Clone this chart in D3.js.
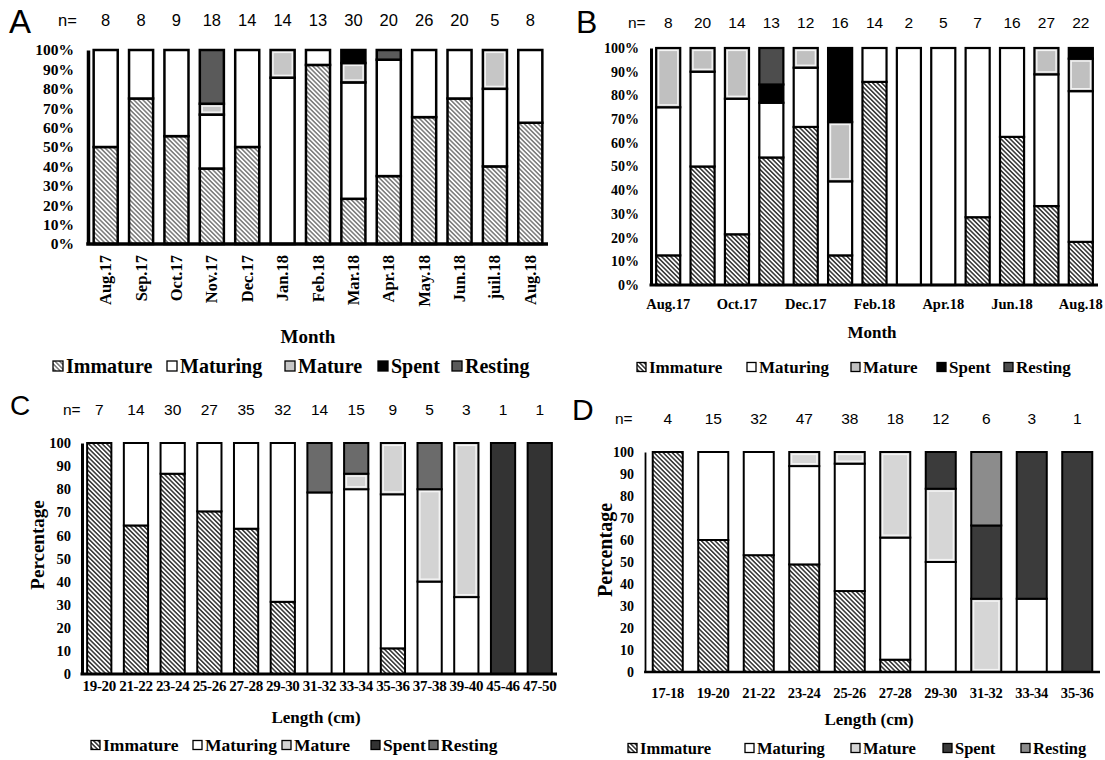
<!DOCTYPE html>
<html>
<head>
<meta charset="utf-8">
<script src="https://cdn.jsdelivr.net/npm/d3@7"></script>
<style>
  body { margin: 0; background: #fff; }
  svg { display: block; }
</style>
</head>
<body>
<svg id="chart" width="1105" height="760"></svg>
<script>
const stages = ['Immature', 'Maturing', 'Mature', 'Spent', 'Resting'];

// A - by month
const monthsA = ['Aug.17', 'Sep.17', 'Oct.17', 'Nov.17', 'Dec.17', 'Jan.18', 'Feb.18', 'Mar.18', 'Apr.18', 'May.18', 'Jun.18', 'juil.18', 'Aug.18'];
const nA = [8, 8, 9, 18, 14, 14, 13, 30, 20, 26, 20, 5, 8];
const immatureA = [50, 75, 55.6, 38.9, 50, 0, 92.3, 23.3, 35, 65.4, 75, 40, 62.5];
const maturingA = [50, 25, 44.4, 27.8, 50, 85.7, 7.7, 60, 60, 34.6, 25, 40, 37.5];
const matureA = [0, 0, 0, 5.6, 0, 14.3, 0, 10, 0, 0, 0, 20, 0];
const spentA = [0, 0, 0, 0, 0, 0, 0, 6.7, 0, 0, 0, 0, 0];
const restingA = [0, 0, 0, 27.7, 0, 0, 0, 0, 5, 0, 0, 0, 0];

// B - by month
const monthsB = ['Aug.17', 'Sep.17', 'Oct.17', 'Nov.17', 'Dec.17', 'Jan.18', 'Feb.18', 'Mar.18', 'Apr.18', 'May.18', 'Jun.18', 'Jul.18', 'Aug.18'];
const nB = [8, 20, 14, 13, 12, 16, 14, 2, 5, 7, 16, 27, 22];
const immatureB = [12.5, 50, 21.4, 53.8, 66.7, 12.5, 85.7, 0, 0, 28.6, 62.5, 33.3, 18.2];
const maturingB = [62.5, 40, 57.2, 23.1, 25, 31.25, 14.3, 100, 100, 71.4, 37.5, 55.6, 63.6];
const matureB = [25, 10, 21.4, 0, 8.3, 25, 0, 0, 0, 0, 0, 11.1, 13.7];
const spentB = [0, 0, 0, 7.7, 0, 31.25, 0, 0, 0, 0, 0, 0, 4.5];
const restingB = [0, 0, 0, 15.4, 0, 0, 0, 0, 0, 0, 0, 0, 0];

// C - by length
const lengthsC = ['19-20', '21-22', '23-24', '25-26', '27-28', '29-30', '31-32', '33-34', '35-36', '37-38', '39-40', '45-46', '47-50'];
const nC = [7, 14, 30, 27, 35, 32, 14, 15, 9, 5, 3, 1, 1];
const immatureC = [100, 64.3, 86.7, 70.4, 62.9, 31.25, 0, 0, 11.1, 0, 0, 0, 0];
const maturingC = [0, 35.7, 13.3, 29.6, 37.1, 68.75, 78.6, 80, 66.7, 40, 33.3, 0, 0];
const matureC = [0, 0, 0, 0, 0, 0, 0, 6.7, 22.2, 40, 66.7, 0, 0];
const spentC = [0, 0, 0, 0, 0, 0, 0, 0, 0, 0, 0, 100, 100];
const restingC = [0, 0, 0, 0, 0, 0, 21.4, 13.3, 0, 20, 0, 0, 0];

// D - by length
const lengthsD = ['17-18', '19-20', '21-22', '23-24', '25-26', '27-28', '29-30', '31-32', '33-34', '35-36'];
const nD = [4, 15, 32, 47, 38, 18, 12, 6, 3, 1];
const immatureD = [100, 60, 53.1, 48.9, 36.8, 5.6, 0, 0, 0, 0];
const maturingD = [0, 40, 46.9, 44.7, 57.9, 55.5, 50, 0, 33.3, 0];
const matureD = [0, 0, 0, 6.4, 5.3, 38.9, 33.3, 33.3, 0, 0];
const spentD = [0, 0, 0, 0, 0, 0, 16.7, 33.3, 66.7, 100];
const restingD = [0, 0, 0, 0, 0, 0, 0, 33.4, 0, 0];

const serif = '"Liberation Serif", "Times New Roman", serif';
const sans = '"Liberation Sans", Arial, sans-serif';

const svg = d3.select('#chart');
const defs = svg.append('defs');

// diagonal hatching for the Immature stage
function addHatch(id, color, width) {
  const p = defs.append('pattern')
    .attr('id', id)
    .attr('patternUnits', 'userSpaceOnUse')
    .attr('width', 3.2)
    .attr('height', 3.2)
    .attr('patternTransform', 'rotate(-45)');
  p.append('rect').attr('width', 3.2).attr('height', 3.2).attr('fill', '#fff');
  p.append('line')
    .attr('x1', 1.6).attr('y1', 0).attr('x2', 1.6).attr('y2', 3.2)
    .attr('stroke', color).attr('stroke-width', width);
}
addHatch('hatchA', '#555', 1.2);
addHatch('hatchDark', '#111', 1.3);

const panels = [
  {
    letter: 'A', letterPos: [9, 33], letterSize: 33,
    cats: monthsA, n: nA, series: [immatureA, maturingA, matureA, spentA, restingA],
    fills: ['url(#hatchA)', '#fff', '#c6c6c6', '#000', '#5a5a5a'],
    xr: [88, 548], yr: [244, 50], pi: 0.32, po: 0.16,
    percent: true, tickFont: 15.5, tickPad: 14, yAxisW: 3.5, xAxisW: 3.5, barW: 2.5,
    nPos: [58, 26], nFont: 16.5,
    xLabels: { rotate: true, y: 255, font: 16.5 },
    title: { text: 'Month', x: 308, y: 343, font: 19 },
    legend: { y: 366, xs: [53, 167, 285, 378, 452], font: 20, sw: 10 }
  },
  {
    letter: 'B', letterPos: [576, 33], letterSize: 32,
    cats: monthsB, n: nB, series: [immatureB, maturingB, matureB, spentB, restingB],
    fills: ['url(#hatchDark)', '#fff', '#c0c0c0', '#000', '#4d4d4d'],
    xr: [651, 1098], yr: [285, 48], pi: 0.3, po: 0.15,
    percent: true, tickFont: 14, tickPad: 12, yAxisW: 3, xAxisW: 3, barW: 2.2,
    nPos: [628, 28], nFont: 15.5,
    xLabels: { every: 2, y: 304, font: 14.5 },
    title: { text: 'Month', x: 872, y: 338, font: 17 },
    legend: { y: 367, xs: [637, 747, 851, 937, 1004], font: 17, sw: 9 }
  },
  {
    letter: 'C', letterPos: [10, 415], letterSize: 28,
    cats: lengthsC, n: nC, series: [immatureC, maturingC, matureC, spentC, restingC],
    fills: ['url(#hatchDark)', '#fff', '#d3d3d3', '#333', '#6b6b6b'],
    xr: [82, 557], yr: [674, 443], pi: 0.34, po: 0.14,
    percent: false, tickFont: 14.5, tickPad: 11, yAxisW: 3, xAxisW: 3, barW: 2,
    nPos: [63, 415], nFont: 15.5,
    xLabels: { y: 686, font: 15, spacing: -0.3 },
    title: { text: 'Length (cm)', x: 316, y: 723, font: 17 },
    yTitle: { text: 'Percentage', x: 37, y: 545, font: 19 },
    legend: { y: 745, xs: [91, 193, 282, 371, 429], font: 17.5, sw: 9 }
  },
  {
    letter: 'D', letterPos: [572, 420], letterSize: 30,
    cats: lengthsD, n: nD, series: [immatureD, maturingD, matureD, spentD, restingD],
    fills: ['url(#hatchDark)', '#fff', '#d6d6d6', '#3b3b3b', '#8c8c8c'],
    xr: [645, 1100], yr: [672, 452], pi: 0.34, po: 0.17,
    percent: false, tickFont: 14, tickPad: 11, yAxisW: 1.8, xAxisW: 2.5, barW: 2,
    nPos: [615, 424], nFont: 15.5,
    xLabels: { y: 693, font: 14.5, spacing: -0.2 },
    title: { text: 'Length (cm)', x: 869, y: 725, font: 17 },
    yTitle: { text: 'Percentage', x: 605, y: 550, font: 20 },
    legend: { y: 748, xs: [628, 745, 851, 943, 1021], font: 16.5, sw: 9 }
  }
];

function drawPanel(cfg) {
  const g = svg.append('g');
  const rows = cfg.cats.map((c, i) => {
    const r = { cat: c };
    stages.forEach((s, k) => r[s] = cfg.series[k][i]);
    return r;
  });
  const layers = d3.stack().keys(stages)(rows);

  const x = d3.scaleBand().domain(cfg.cats).range(cfg.xr)
    .paddingInner(cfg.pi).paddingOuter(cfg.po);
  const y = d3.scaleLinear().domain([0, 100]).range(cfg.yr);
  const color = d3.scaleOrdinal().domain(stages).range(cfg.fills);

  // stacked segments
  layers.forEach(layer => {
    const segs = layer.filter(d => d[1] - d[0] > 0);
    g.append('g').selectAll('rect')
      .data(segs)
      .join('rect')
      .attr('x', d => x(d.data.cat))
      .attr('y', d => y(d[1]))
      .attr('width', x.bandwidth())
      .attr('height', d => y(d[0]) - y(d[1]))
      .attr('fill', color(layer.key))
      .attr('stroke', '#000')
      .attr('stroke-width', cfg.barW);
    if (layer.key === 'Mature') {
      // light inner edge on the grey segments
      g.append('g').selectAll('rect')
        .data(segs)
        .join('rect')
        .attr('x', d => x(d.data.cat) + 2.4)
        .attr('y', d => y(d[1]) + 2.4)
        .attr('width', x.bandwidth() - 4.8)
        .attr('height', d => Math.max(0, y(d[0]) - y(d[1]) - 4.8))
        .attr('fill', 'none')
        .attr('stroke', '#f4f4f4')
        .attr('stroke-width', 1.4);
    }
  });

  // y axis
  const yAxis = g.append('g')
    .attr('transform', `translate(${cfg.xr[0]},0)`)
    .call(d3.axisLeft(y).ticks(10).tickSize(0).tickSizeOuter(0).tickPadding(cfg.tickPad)
      .tickFormat(d => cfg.percent ? d + '%' : d));
  yAxis.select('.domain').attr('stroke', '#000').attr('stroke-width', cfg.yAxisW);
  yAxis.selectAll('text')
    .attr('font-family', serif).attr('font-weight', 'bold')
    .attr('font-size', cfg.tickFont).attr('fill', '#000');

  // x axis
  const xAxisGen = d3.axisBottom(x).tickSize(0).tickSizeOuter(0);
  if (cfg.xLabels.every) xAxisGen.tickValues(cfg.cats.filter((d, i) => i % cfg.xLabels.every === 0));
  const xAxis = g.append('g')
    .attr('transform', `translate(0,${cfg.yr[0]})`)
    .call(xAxisGen);
  xAxis.select('.domain').attr('stroke', '#000').attr('stroke-width', cfg.xAxisW)
    .attr('d', `M${cfg.xr[0] - cfg.yAxisW / 2},0H${cfg.xr[1]}`);
  const xt = xAxis.selectAll('text')
    .attr('font-family', serif).attr('font-weight', 'bold')
    .attr('font-size', cfg.xLabels.font).attr('fill', '#000');
  if (cfg.xLabels.rotate) {
    xt.attr('text-anchor', 'end')
      .attr('dy', null)
      .attr('dominant-baseline', 'central')
      .attr('transform', `translate(0,${cfg.xLabels.y - cfg.yr[0]}) rotate(-90)`)
      .attr('y', 0).attr('x', 0);
  } else {
    xt.attr('y', cfg.xLabels.y - cfg.yr[0]).attr('dy', '0.35em')
      .attr('letter-spacing', cfg.xLabels.spacing || 0);
  }

  // n= sample sizes
  g.append('text')
    .attr('x', cfg.nPos[0]).attr('y', cfg.nPos[1])
    .attr('font-family', sans).attr('font-size', cfg.nFont)
    .text('n=');
  g.append('g').selectAll('text')
    .data(cfg.cats)
    .join('text')
    .attr('x', d => x(d) + x.bandwidth() / 2)
    .attr('y', cfg.nPos[1])
    .attr('text-anchor', 'middle')
    .attr('font-family', sans).attr('font-size', cfg.nFont)
    .text((d, i) => cfg.n[i]);

  // panel letter
  g.append('text')
    .attr('x', cfg.letterPos[0]).attr('y', cfg.letterPos[1])
    .attr('font-family', sans).attr('font-size', cfg.letterSize)
    .text(cfg.letter);

  // axis titles
  g.append('text')
    .attr('x', cfg.title.x).attr('y', cfg.title.y)
    .attr('text-anchor', 'middle')
    .attr('font-family', serif).attr('font-weight', 'bold').attr('font-size', cfg.title.font)
    .text(cfg.title.text);
  if (cfg.yTitle) {
    g.append('text')
      .attr('transform', `translate(${cfg.yTitle.x},${cfg.yTitle.y}) rotate(-90)`)
      .attr('text-anchor', 'middle').attr('dy', '0.35em')
      .attr('font-family', serif).attr('font-weight', 'bold').attr('font-size', cfg.yTitle.font)
      .text(cfg.yTitle.text);
  }

  // legend
  const lg = g.append('g').selectAll('g')
    .data(stages)
    .join('g')
    .attr('transform', (d, i) => `translate(${cfg.legend.xs[i]},${cfg.legend.y})`);
  lg.append('rect')
    .attr('x', 0).attr('y', -cfg.legend.sw / 2)
    .attr('width', cfg.legend.sw).attr('height', cfg.legend.sw)
    .attr('fill', d => color(d))
    .attr('stroke', '#000').attr('stroke-width', 1.3);
  lg.append('text')
    .attr('x', cfg.legend.sw + 3).attr('dy', '0.35em')
    .attr('font-family', serif).attr('font-weight', 'bold').attr('font-size', cfg.legend.font)
    .text(d => d);
}

panels.forEach(drawPanel);
</script>
</body>
</html>
